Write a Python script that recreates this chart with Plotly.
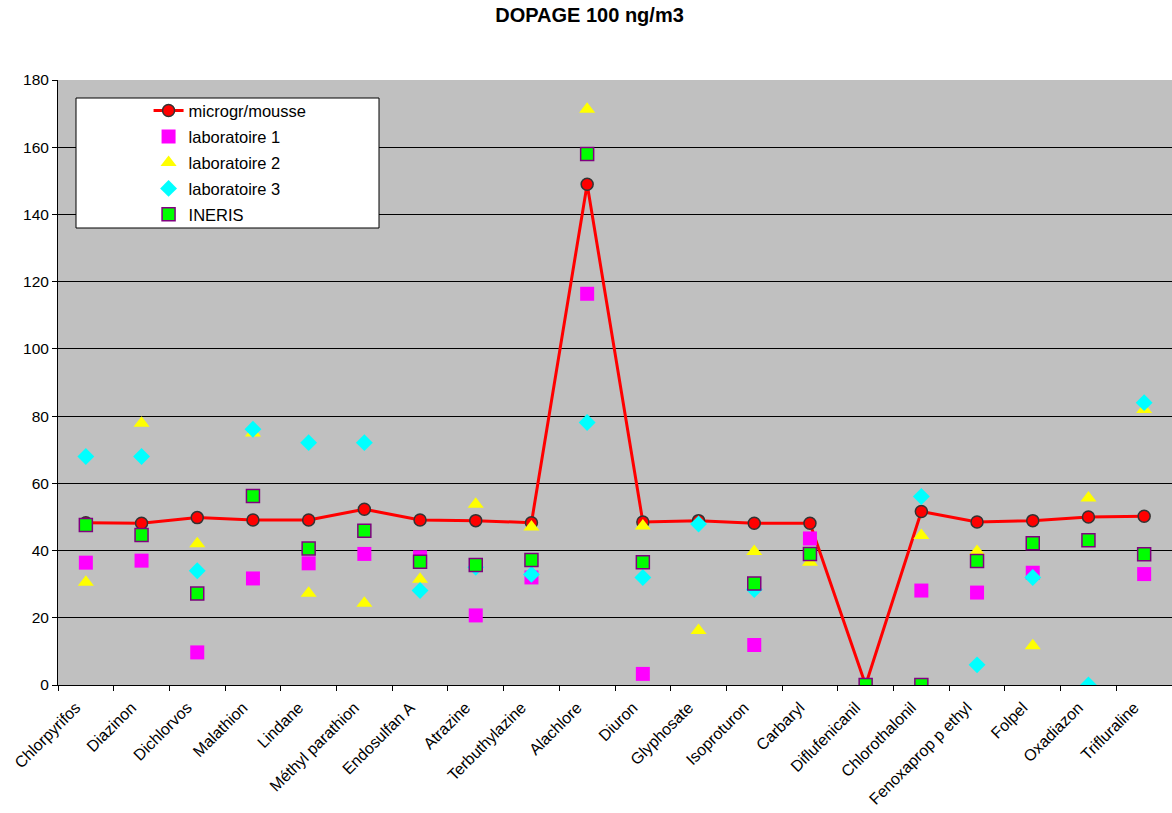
import plotly.graph_objects as go

categories = ["Chlorpyrifos", "Diazinon", "Dichlorvos", "Malathion", "Lindane",
              "Méthyl parathion", "Endosulfan A", "Atrazine", "Terbuthylazine", "Alachlore",
              "Diuron", "Glyphosate", "Isoproturon", "Carbaryl", "Diflufenicanil",
              "Chlorothalonil", "Fenoxaprop p ethyl", "Folpel", "Oxadiazon", "Trifluraline"]

microgr_mousse = [48.3, 48.1, 49.8, 49.1, 49.1, 52.3, 49.1, 48.9, 48.3, 149.0,
                  48.5, 48.9, 48.1, 48.1, 0, 51.6, 48.5, 48.9, 50.0, 50.2]
laboratoire_1 = [36.4, 37.0, 9.7, 31.7, 36.2, 39.0, 38.0, 20.7, 32.0, 116.4,
                 3.3, None, 11.9, 43.6, None, 28.1, 27.5, 33.4, None, 33.0]
laboratoire_2 = [30.6, 77.9, 42.0, 75.0, 27.3, 24.3, 31.5, 53.8, 47.0, 171.3,
                 47.3, 16.2, 39.7, 36.5, None, 44.5, 39.7, 11.7, 55.6, 82.0]
laboratoire_3 = [68.0, 68.0, 34.0, 76.1, 72.1, 72.1, 28.1, 35.0, 32.9, 78.1,
                 32.0, 47.9, 28.4, None, None, 56.1, 6.0, 32.0, 0, 84.0]
ineris = [47.6, 44.6, 27.2, 56.2, 40.6, 45.9, 36.7, 35.7, 37.2, 158.0,
          36.5, None, 30.2, 39.0, 0, 0, 36.9, 42.2, 43.1, 38.9]

y_ticks = [0, 20, 40, 60, 80, 100, 120, 140, 160, 180]

FONT = "Liberation Sans, Arial, sans-serif"
W, H = 1172, 813

fig = go.Figure()
fig.add_trace(go.Scatter(
    x=categories, y=microgr_mousse, name="microgr/mousse", mode="lines+markers",
    line=dict(color="#FF0000", width=3),
    marker=dict(symbol="circle", size=12, color="#FF0000", line=dict(color="#333333", width=1.5)),
    legendgroup="a"))
fig.add_trace(go.Scatter(
    x=categories, y=laboratoire_1, name="laboratoire 1", mode="markers",
    marker=dict(symbol="square", size=14, color="#FF00FF"), legendgroup="b"))
fig.add_trace(go.Scatter(
    x=categories, y=laboratoire_2, name="laboratoire 2", mode="markers",
    marker=dict(symbol="triangle-up", size=14, color="#FFFF00"), legendgroup="c"))
fig.add_trace(go.Scatter(
    x=categories, y=laboratoire_3, name="laboratoire 3", mode="markers",
    marker=dict(symbol="diamond", size=13, color="#00FFFF"), legendgroup="d"))
fig.add_trace(go.Scatter(
    x=categories, y=ineris, name="INERIS", mode="markers",
    marker=dict(symbol="square", size=13, color="#00FF00", line=dict(color="#800080", width=1.5)),
    legendgroup="e"))

fig.update_layout(
    width=W, height=H, autosize=False,
    margin=dict(l=58, r=0, t=80, b=128),
    paper_bgcolor="white", plot_bgcolor="#C0C0C0",
    font=dict(family=FONT, size=16, color="black"),
    title=dict(text="<b>DOPAGE 100 ng/m3</b>", x=0.503, xanchor="center",
               y=1 - 15 / H, yanchor="middle", yref="container",
               font=dict(family=FONT, size=20, color="black")),
    showlegend=True,
    legend=dict(x=0.0813, y=0.978, xanchor="left", yanchor="top",
                bgcolor="rgba(0,0,0,0)", borderwidth=0,
                font=dict(family=FONT, size=16.5, color="black"),
                tracegroupgap=1.5, traceorder="grouped"),
    shapes=[dict(type="rect", xref="paper", yref="paper",
                 x0=(76 - 58) / 1114, x1=(379 - 58) / 1114,
                 y0=1 - 148 / 605, y1=1 - 18 / 605,
                 fillcolor="white", line=dict(color="black", width=1), layer="above")],
)
fig.update_xaxes(type="category", categoryorder="array", categoryarray=categories,
                 tickson="boundaries", ticks="outside", ticklen=5, tickcolor="black",
                 showline=True, linecolor="black", linewidth=1, showgrid=False,
                 tickangle=-45, tickfont=dict(family=FONT, size=16, color="black"),
                 ticklabelshift=-10, ticklabelstandoff=6,
                 range=[-0.5, 19.5], automargin=False)
fig.update_yaxes(range=[0, 180], tickvals=y_ticks, ticks="outside", ticklen=5,
                 tickcolor="black", showline=True, linecolor="black", linewidth=1,
                 showgrid=True, gridcolor="black", gridwidth=1, zeroline=False,
                 tickfont=dict(family=FONT, size=15.5, color="black"), automargin=False)

post = ("document.documentElement.style.margin='0';document.body.style.margin='0';"
        "document.body.style.padding='0';document.body.style.overflow='hidden';"
        "Plotly.relayout('{plot_id}', {width: %d, height: %d});" % (W, H))
fig.write_html("out.html", config={"responsive": False, "displayModeBar": False},
               post_script=post)
